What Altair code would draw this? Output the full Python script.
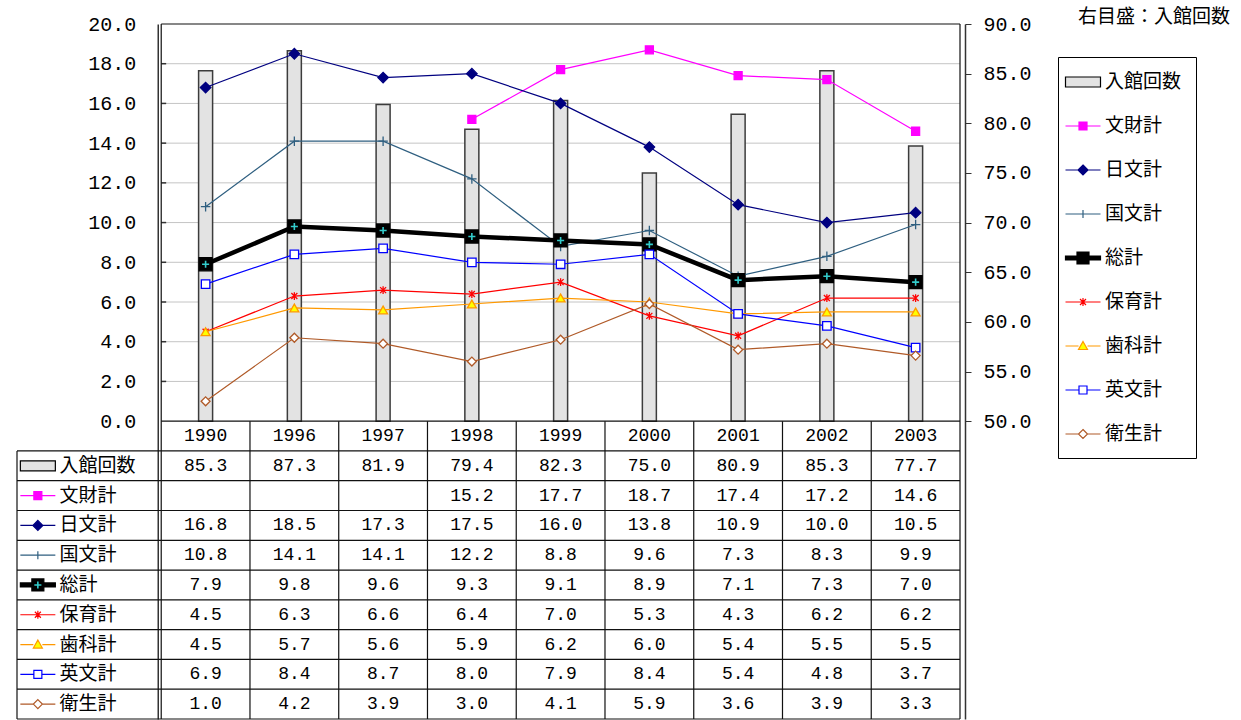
import altair as alt
import pandas as pd

# ---------------- data ----------------
YEARS = ["1990", "1996", "1997", "1998", "1999", "2000", "2001", "2002", "2003"]
VISITS_NAME = "入館回数"
VISITS = [85.3, 87.3, 81.9, 79.4, 82.3, 75.0, 80.9, 85.3, 77.7]

SERIES = ["文財計", "日文計", "国文計", "総計", "保育計", "歯科計", "英文計", "衛生計"]
BUNZAI = [None, None, None, 15.2, 17.7, 18.7, 17.4, 17.2, 14.6]
NICHIBUN = [16.8, 18.5, 17.3, 17.5, 16.0, 13.8, 10.9, 10.0, 10.5]
KOKUBUN = [10.8, 14.1, 14.1, 12.2, 8.8, 9.6, 7.3, 8.3, 9.9]
SOUKEI = [7.9, 9.8, 9.6, 9.3, 9.1, 8.9, 7.1, 7.3, 7.0]
HOIKU = [4.5, 6.3, 6.6, 6.4, 7.0, 5.3, 4.3, 6.2, 6.2]
SHIKA = [4.5, 5.7, 5.6, 5.9, 6.2, 6.0, 5.4, 5.5, 5.5]
EIBUN = [6.9, 8.4, 8.7, 8.0, 7.9, 8.4, 5.4, 4.8, 3.7]
EISEI = [1.0, 4.2, 3.9, 3.0, 4.1, 5.9, 3.6, 3.9, 3.3]
SERIES_VALUES = [BUNZAI, NICHIBUN, KOKUBUN, SOUKEI, HOIKU, SHIKA, EIBUN, EISEI]

LEFT_TICKS = [0, 2, 4, 6, 8, 10, 12, 14, 16, 18, 20]
RIGHT_TICKS = [50, 55, 60, 65, 70, 75, 80, 85, 90]
TITLE_TEXT = "右目盛：入館回数"

# ---------------- styles / layout ----------------
MONO = "Liberation Mono"
CJK = "Noto Sans CJK JP"

W, H = 953, 695
PAD = {"left": 12, "top": 24, "right": 276, "bottom": 1}
N = len(YEARS)
X_LO, X_HI = -0.5, N - 0.5
LABEL_COLS = 1.625           # width of the row-label column, in category units
X_MIN = X_LO - LABEL_COLS
PXU = W / (X_HI - X_MIN)     # pixels per category unit
Y_TOP = 20
ROW = 1.5
NROWS = 10
Y_MIN = -ROW * NROWS
B_LO, B_HI = 50, 90
B_FACTOR = (B_HI - B_LO) / Y_TOP
B_MIN = B_LO + B_FACTOR * Y_MIN

LINE_COLOR = {
    "文財計": "#ff00ff", "日文計": "#000080", "国文計": "#2f5f80", "総計": "#000000",
    "保育計": "#ff0000", "歯科計": "#ff9900", "英文計": "#0000ff", "衛生計": "#b05a28",
}
LINE_WIDTH = {s: (4.5 if s == "総計" else 1.2) for s in SERIES}
PLUS = "M0,-1V1M-1,0H1"
ASTER = "M-1,-1L1,1M-1,1L1,-1M0,-1.3V1.3"
MARK = {
    "文財計": dict(shape="square", size=64, fill="#ff00ff", stroke="#ff00ff"),
    "日文計": dict(shape="diamond", size=110, fill="#000080", stroke="#000080"),
    "国文計": dict(shape=PLUS, size=90, fill="transparent", stroke="#2f5f80"),
    "総計": dict(shape="square", size=170, fill="#000000", stroke="#000000"),
    "保育計": dict(shape=ASTER, size=36, fill="transparent", stroke="#ff0000"),
    "歯科計": dict(shape="triangle-up", size=80, fill="#ffff00", stroke="#ff9900"),
    "英文計": dict(shape="square", size=72, fill="#ffffff", stroke="#0000ff"),
    "衛生計": dict(shape="diamond", size=80, fill="#ffffff", stroke="#b05a28"),
}
ROW_NAMES = [VISITS_NAME] + SERIES
GLYPH = {
    "入館回数": "M-1.75,-0.5H1.75V0.5H-1.75Z",
    "文財計": "M-1.75,0H1.75M-0.4,-0.4H0.4V0.4H-0.4Z",
    "日文計": "M-1.75,0H1.75M0,-0.5L0.5,0L0,0.5L-0.5,0Z",
    "国文計": "M-1.75,0H1.75M0,-0.4V0.4",
    "総計": "M-1.75,-0.2H1.75V0.2H-1.75ZM-0.6,-0.6H0.6V0.6H-0.6Z",
    "保育計": "M-1.75,0H1.75M-0.3,-0.3L0.3,0.3M-0.3,0.3L0.3,-0.3M0,-0.4V0.4",
    "歯科計": "M-1.75,0H-0.45M0.45,0H1.75M0,-0.45L0.45,0.35H-0.45Z",
    "英文計": "M-1.75,0H-0.4M0.4,0H1.75M-0.4,-0.4H0.4V0.4H-0.4Z",
    "衛生計": "M-1.75,0H-0.45M0.45,0H1.75M0,-0.45L0.45,0L0,0.45L-0.45,0Z",
}
GLYPH_FILL = {
    "入館回数": "#e3e3e3", "文財計": "#ff00ff", "日文計": "#000080", "国文計": "transparent",
    "総計": "#000000", "保育計": "transparent", "歯科計": "#ffff00", "英文計": "#ffffff",
    "衛生計": "#ffffff",
}
GLYPH_STROKE = dict({"入館回数": "#000000"}, **LINE_COLOR)

XS = alt.Scale(domain=[X_MIN, X_HI], nice=False, zero=False)
YS = alt.Scale(domain=[Y_MIN, Y_TOP], nice=False, zero=False)
BS = alt.Scale(domain=[B_MIN, B_HI], nice=False, zero=False)


def xq(f):
    return alt.X(f"{f}:Q", scale=XS, axis=None)


def yq(f, axis=None):
    return alt.Y(f"{f}:Q", scale=YS, axis=axis)


# ---------------- back layer: grid + left axis ----------------
grid_df = pd.DataFrame({"y": LEFT_TICKS[1:-1], "x1": X_LO, "x2": X_HI})
left_axis = alt.Axis(
    orient="left", values=LEFT_TICKS, format=".1f", title=None, grid=False,
    ticks=False, tickSize=0, labelFont=MONO, labelFontSize=20, labelColor="#000",
    labelPadding=22, domainColor="#333", domainWidth=1.5, offset=-LABEL_COLS * PXU,
)
grid = alt.Chart(grid_df).mark_rule(color="#c4c4c4", strokeWidth=1).encode(
    x=xq("x1"), x2="x2", y=yq("y", left_axis)
)
# short inward tick marks on the left axis
tick_df = pd.DataFrame({"y": LEFT_TICKS[1:-1], "x1": X_LO, "x2": X_LO + 5 / PXU})
ticks = alt.Chart(tick_df).mark_rule(color="#333", strokeWidth=1.5).encode(
    x=xq("x1"), x2="x2", y=yq("y")
)

# ---------------- bars (right axis) ----------------
bar_df = pd.DataFrame({"i": list(range(N)), "v": VISITS, "base": B_LO})
right_axis = alt.Axis(
    orient="right", values=RIGHT_TICKS, format=".1f", title=None, grid=False,
    tickSize=6, tickColor="#333", labelFont=MONO, labelFontSize=20, labelColor="#000",
    labelPadding=12, domainColor="#333", domainWidth=1.5,
)
bars = alt.Chart(bar_df).mark_bar(
    size=14, fill="#e3e3e3", stroke="#3c3c3c", strokeWidth=1.5
).encode(x=xq("i"), y=alt.Y("v:Q", scale=BS, axis=right_axis), y2="base")

# ---------------- main layer ----------------
layers = [ticks]

# table and plot-frame rules
rules = []
for k in range(NROWS + 1):
    rules.append(dict(x=X_LO if k == 0 else X_MIN, x2=X_HI, y=-ROW * k, y2=-ROW * k))
for j in range(1, N):
    rules.append(dict(x=X_LO + j, x2=X_LO + j, y=0, y2=Y_MIN))
rules.append(dict(x=X_MIN, x2=X_MIN, y=-ROW, y2=Y_MIN))
rules.append(dict(x=X_LO, x2=X_HI, y=Y_TOP, y2=Y_TOP))
rules.append(dict(x=X_LO, x2=X_LO, y=Y_TOP, y2=Y_MIN))
rules.append(dict(x=X_HI, x2=X_HI, y=Y_TOP, y2=Y_MIN))
layers.append(
    alt.Chart(pd.DataFrame(rules)).mark_rule(color="#111", strokeWidth=1.2).encode(
        x=xq("x"), x2="x2", y=yq("y"), y2="y2"
    )
)

# series lines and markers
for name, vals in zip(SERIES, SERIES_VALUES):
    df = pd.DataFrame({"i": list(range(N)), "v": vals}).dropna()
    layers.append(
        alt.Chart(df).mark_line(color=LINE_COLOR[name], strokeWidth=LINE_WIDTH[name]).encode(
            x=xq("i"), y=yq("v")
        )
    )
    m = MARK[name]
    layers.append(
        alt.Chart(df).mark_point(
            shape=m["shape"], size=m["size"], fill=m["fill"], stroke=m["stroke"],
            strokeWidth=1.3, opacity=1, filled=True,
        ).encode(x=xq("i"), y=yq("v"))
    )
    if name == "総計":
        layers.append(
            alt.Chart(df).mark_point(
                shape=PLUS, size=50, fill="transparent", stroke="#33cccc",
                strokeWidth=1.6, opacity=1,
            ).encode(x=xq("i"), y=yq("v"))
        )

# table: header years
hdr = pd.DataFrame({"i": list(range(N)), "t": YEARS, "y": -ROW / 2})
layers.append(
    alt.Chart(hdr).mark_text(font=MONO, fontSize=18, color="#000", baseline="middle").encode(
        x=xq("i"), y=yq("y"), text="t:N"
    )
)

# table: values
vals_rows = []
for r, (name, vals) in enumerate(zip(ROW_NAMES, [VISITS] + SERIES_VALUES)):
    for i, v in enumerate(vals):
        if v is not None:
            vals_rows.append(dict(i=i, y=-ROW * (r + 1) - ROW / 2, v=v))
layers.append(
    alt.Chart(pd.DataFrame(vals_rows)).mark_text(
        font=MONO, fontSize=18, color="#000", baseline="middle"
    ).encode(x=xq("i"), y=yq("y"), text=alt.Text("v:Q", format=".1f"))
)

# table: row labels with legend glyphs
lab_df = pd.DataFrame({
    "name": ROW_NAMES,
    "y": [-ROW * (r + 1) - ROW / 2 for r in range(len(ROW_NAMES))],
    "gx": X_MIN + 0.235,
    "tx": X_MIN + 0.48,
})
layers.append(
    alt.Chart(lab_df).mark_text(
        font=CJK, fontSize=19, color="#000", align="left", baseline="middle"
    ).encode(x=xq("tx"), y=yq("y"), text="name:N")
)
LEG = alt.Legend(
    title=None, orient="none", legendX=1046, legendY=33, direction="vertical",
    strokeColor="#000", fillColor="#fff", padding=14, symbolSize=400,
    symbolStrokeWidth=1.2, symbolOpacity=1, labelFont=CJK, labelFontSize=19,
    labelColor="#000", labelOffset=11, rowPadding=23, labelLimit=200,
)
layers.append(
    alt.Chart(lab_df).mark_point(size=400, strokeWidth=1.2, opacity=1, filled=True).encode(
        x=xq("gx"), y=yq("y"),
        shape=alt.Shape("name:N", scale=alt.Scale(domain=ROW_NAMES, range=[GLYPH[n] for n in ROW_NAMES]), legend=LEG),
        fill=alt.Fill("name:N", scale=alt.Scale(domain=ROW_NAMES, range=[GLYPH_FILL[n] for n in ROW_NAMES]), legend=LEG),
        stroke=alt.Stroke("name:N", scale=alt.Scale(domain=ROW_NAMES, range=[GLYPH_STROKE[n] for n in ROW_NAMES]), legend=LEG),
    )
)
sk = lab_df[lab_df["name"] == "総計"]
layers.append(
    alt.Chart(sk).mark_point(shape=PLUS, size=50, fill="transparent", stroke="#33cccc",
                             strokeWidth=1.6, opacity=1).encode(x=xq("gx"), y=yq("y"))
)

main = alt.layer(*layers)

chart = alt.layer(grid, bars, main).resolve_scale(y="independent").properties(
    width=W, height=H,
    padding=PAD,
    autosize=alt.AutoSizeParams(type="none"),
    title=alt.TitleParams(
        TITLE_TEXT, anchor="end", frame="group", orient="top", font=CJK, fontSize=19,
        fontWeight="normal", color="#000", dx=265, offset=-13,
    ),
).configure_view(stroke=None)

chart.save("out.html", embed_options={"renderer": "svg", "actions": False})
